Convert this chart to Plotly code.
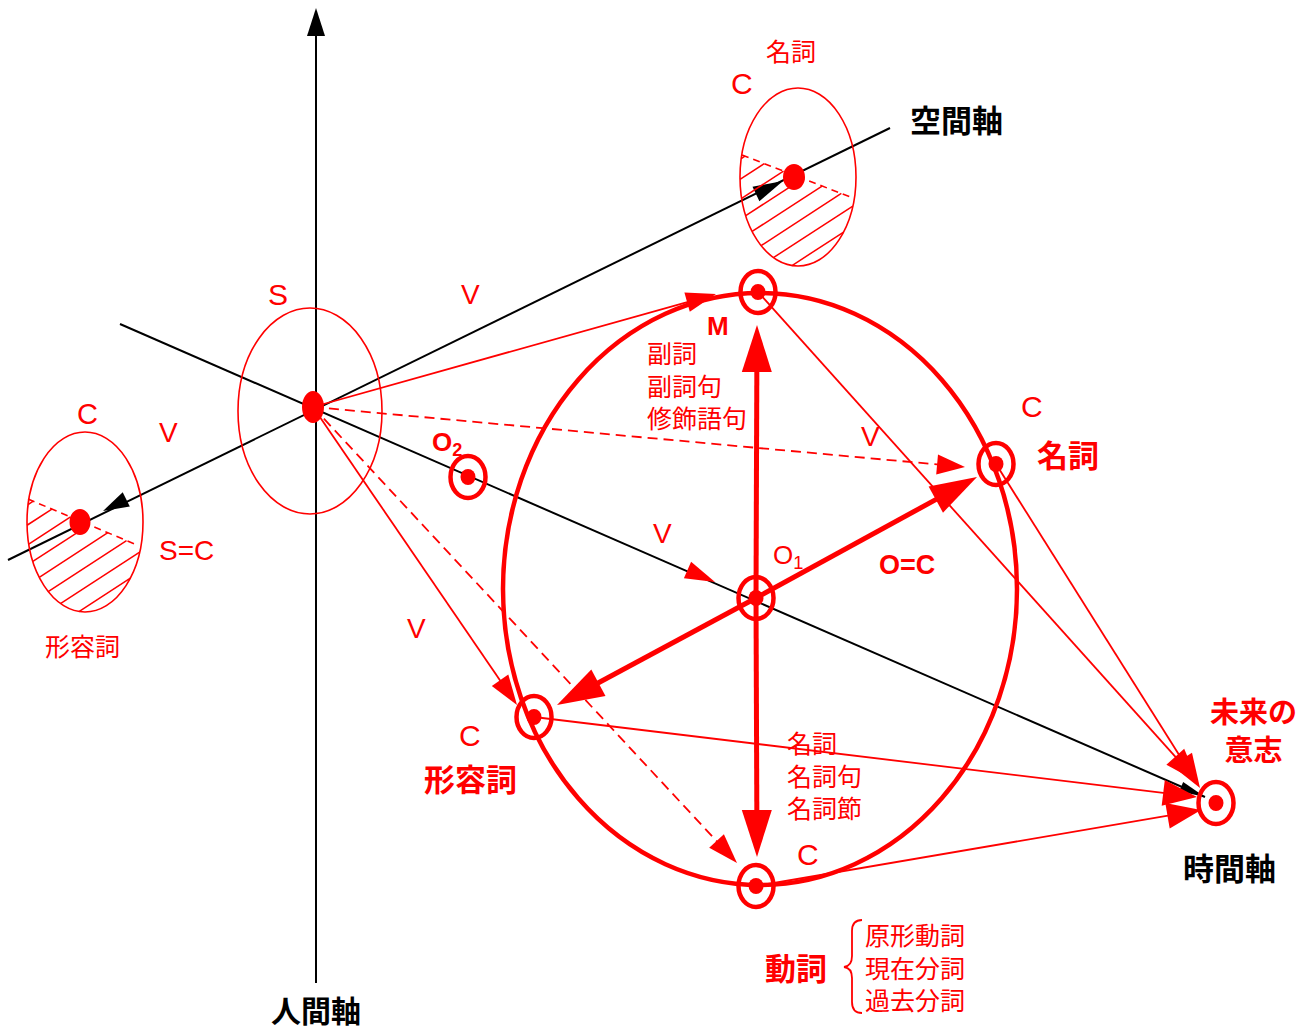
import math
import plotly.graph_objects as go

RED = "#ff0000"
BLK = "#000000"
CJK = "Noto Sans CJK JP"
LAT = "Liberation Sans"

# ---- node positions (diagram coordinates, y grows downward) ----
node_names = ["M", "N", "O1", "O2", "A", "V", "F"]
node_x = [758, 996, 756, 468, 534, 756, 1216]
node_y = [292, 464, 598, 477, 717, 886, 803]

S_pt = (313, 407)
topC_pt = (794, 177)
leftC_pt = (80, 522)

# ---- black axes ----
axis_x0 = [316, 8, 120]
axis_y0 = [983, 560, 324]
axis_x1 = [316, 890, 1205]
axis_y1 = [8, 128, 797]

# black arrowheads: tip, direction source, length, half width
blk_tip = [(316, 8), (783, 181), (103, 511), (1205, 797)]
blk_src = [(316, 100), (313, 407), (313, 407), (313, 407)]
blk_len = [28, 30, 26, 26]
blk_hw = [9, 8, 8, 5]

# ---- ellipses: cx, cy, rx, ry ----
big_ell = (760, 589, 257, 296)
S_ell = (310, 411, 72, 103)
top_ell = (798, 177, 58, 89)
left_ell = (85, 522, 58, 90)

# dashed boundary of hatched area
top_dash = [(742, 155), (853, 198)]
left_dash = [(28, 499), (137, 545)]

# ---- thin red arrows: start, tip, dashed ----
thin_start = [S_pt, S_pt, S_pt, S_pt, (758, 292), (996, 464), (534, 717), (756, 886)]
thin_tip = [(716, 294), (965, 467), (517, 705), (737, 863),
            (1198, 782), (1200, 788), (1197, 797), (1201, 810)]
thin_dash = [False, True, False, True, False, False, False, False]
thin_len = [30, 28, 30, 30, 34, 34, 34, 34]
thin_hw = [10, 10, 10, 10, 12, 12, 13, 13]

# ---- thick red arrows from O1 ----
thick_start = (756, 598)
thick_tip = [(757, 325), (757, 857), (977, 477), (557, 705)]

# ---- texts ----
txt = [
    # text, x, y, size, bold, color, family, anchor
    ("名詞", 791, 50, 25, False, RED, CJK, "center"),
    ("C", 742, 83, 30, False, RED, LAT, "center"),
    ("空間軸", 956, 118, 31, True, BLK, CJK, "center"),
    ("S", 278, 294, 30, False, RED, LAT, "center"),
    ("V", 470, 294, 28, False, RED, LAT, "center"),
    ("M", 718, 326, 26, True, RED, LAT, "center"),
    ("副詞<br>副詞句<br>修飾語句", 645, 384, 25, False, RED, CJK, "left"),
    ("C", 1032, 406, 30, False, RED, LAT, "center"),
    ("名詞", 1068, 453, 31, True, RED, CJK, "center"),
    ("V", 870, 436, 28, False, RED, LAT, "center"),
    ("O<sub>2</sub>", 447, 443, 26, True, RED, LAT, "center"),
    ("O<sub>1</sub>", 788, 556, 26, False, RED, LAT, "center"),
    ("V", 662, 533, 28, False, RED, LAT, "center"),
    ("O=C", 907, 565, 27, True, RED, LAT, "center"),
    ("C", 87, 414, 29, False, RED, LAT, "center"),
    ("V", 168, 432, 28, False, RED, LAT, "center"),
    ("S=C", 186, 550, 28, False, RED, LAT, "center"),
    ("形容詞", 82, 645, 25, False, RED, CJK, "center"),
    ("V", 416, 628, 28, False, RED, LAT, "center"),
    ("C", 470, 735, 30, False, RED, LAT, "center"),
    ("形容詞", 470, 777, 31, True, RED, CJK, "center"),
    ("名詞<br>名詞句<br>名詞節", 785, 774, 25, False, RED, CJK, "left"),
    ("C", 808, 854, 30, False, RED, LAT, "center"),
    ("未来の<br>意志", 1253, 729, 29, True, RED, CJK, "center"),
    ("時間軸", 1229, 866, 31, True, BLK, CJK, "center"),
    ("人間軸", 316, 1009, 30, True, BLK, CJK, "center"),
    ("動詞", 796, 966, 31, True, RED, CJK, "center"),
    ("原形動詞<br>現在分詞<br>過去分詞", 863, 966, 25, False, RED, CJK, "left"),
]

shapes = []


def line(p0, p1, color, width, dash=None):
    d = dict(type="line", xref="x", yref="y", x0=p0[0], y0=p0[1], x1=p1[0], y1=p1[1],
             line=dict(color=color, width=width))
    if dash:
        d["line"]["dash"] = dash
    shapes.append(d)


def head(tip, src, L, hw, color):
    dx, dy = tip[0] - src[0], tip[1] - src[1]
    n = math.hypot(dx, dy)
    ux, uy = dx / n, dy / n
    bx, by = tip[0] - ux * L, tip[1] - uy * L
    px, py = -uy, ux
    path = "M {:.1f},{:.1f} L {:.1f},{:.1f} L {:.1f},{:.1f} Z".format(
        tip[0], tip[1], bx + px * hw, by + py * hw, bx - px * hw, by - py * hw)
    shapes.append(dict(type="path", xref="x", yref="y", path=path,
                       fillcolor=color, line=dict(width=0)))
    return (bx + ux * 2, by + uy * 2)


def ellipse(cx, cy, rx, ry, color, width, fill=None):
    d = dict(type="circle", xref="x", yref="y", x0=cx - rx, x1=cx + rx, y0=cy - ry, y1=cy + ry,
             line=dict(color=color, width=width))
    if fill:
        d["fillcolor"] = fill
        d["line"]["width"] = 0
    shapes.append(d)


def hatch(ell, dash_pts, m=-0.65, step=20):
    cx, cy, rx, ry = ell
    (x1, y1), (x2, y2) = dash_pts
    k = (y2 - y1) / (x2 - x1)
    cmax = cy - m * cx + math.sqrt(ry ** 2 + (m * rx) ** 2)
    c = cmax - step * 0.6
    while c > cy - m * cx - math.sqrt(ry ** 2 + (m * rx) ** 2):
        A = 1 / rx ** 2 + m * m / ry ** 2
        B = -2 * cx / rx ** 2 + 2 * m * (c - cy) / ry ** 2
        C = cx * cx / rx ** 2 + (c - cy) ** 2 / ry ** 2 - 1
        disc = B * B - 4 * A * C
        if disc > 0:
            xa = (-B - math.sqrt(disc)) / (2 * A)
            xb = (-B + math.sqrt(disc)) / (2 * A)
            xlim = (y1 - k * x1 - c) / (m - k)
            xb2 = min(xb, xlim)
            if xb2 > xa + 1:
                line((xa, c + m * xa), (xb2, c + m * xb2), RED, 1.5)
        c -= step


# axes
for i in range(3):
    if i == 0:
        line((axis_x0[i], axis_y0[i]), (axis_x1[i], axis_y1[i] + 20), BLK, 2)
    else:
        line((axis_x0[i], axis_y0[i]), (axis_x1[i], axis_y1[i]), BLK, 2)
for i in range(4):
    head(blk_tip[i], blk_src[i], blk_len[i], blk_hw[i], BLK)

# small ellipses with hatching
for ell, dp in ((top_ell, top_dash), (left_ell, left_dash)):
    ellipse(*ell, RED, 1.6)
    hatch(ell, dp)
    line(dp[0], dp[1], RED, 1.6, "7px,5px")
ellipse(*S_ell, RED, 1.6)

# big ellipse
ellipse(*big_ell, RED, 4.5)

# thin red arrows
for i in range(len(thin_start)):
    b = head(thin_tip[i], thin_start[i], thin_len[i], thin_hw[i], RED)
    line(thin_start[i], b, RED, 1.8, "10px,6px" if thin_dash[i] else None)
# arrowhead on time axis
head((715, 582), S_pt, 30, 9, RED)

# thick arrows
for t in thick_tip:
    b = head(t, thick_start, 47, 15, RED)
    line(thick_start, b, RED, 5)

# dots in small ellipses
ellipse(S_pt[0], S_pt[1], 11, 16, RED, 0, fill=RED)
ellipse(topC_pt[0], topC_pt[1], 11, 13, RED, 0, fill=RED)
ellipse(leftC_pt[0], leftC_pt[1], 10.5, 13, RED, 0, fill=RED)

# target nodes
for x, y in zip(node_x, node_y):
    ellipse(x, y, 17.5, 21, RED, 4.5)
    ellipse(x, y, 7.5, 8, RED, 0, fill=RED)

# brace
bx = 852
shapes.append(dict(type="path", xref="x", yref="y",
                   path=f"M {bx+10},920 Q {bx},920 {bx},931 L {bx},956 Q {bx},966 {bx-8},967 "
                        f"Q {bx},968 {bx},978 L {bx},1002 Q {bx},1013 {bx+10},1013",
                   line=dict(color=RED, width=1.8)))

annotations = []
for t, x, y, s, b, col, fam, anc in txt:
    annotations.append(dict(x=x, y=y, xref="x", yref="y", text=f"<b>{t}</b>" if b else t,
                            showarrow=False, xanchor=anc, yanchor="middle", align=anc,
                            font=dict(size=s, color=col, family=fam)))

fig = go.Figure()
fig.add_trace(go.Scatter(x=[0, 1304], y=[0, 1030], mode="markers",
                         marker=dict(opacity=0), hoverinfo="skip", showlegend=False))
fig.update_layout(
    width=1304, height=1030, margin=dict(l=0, r=0, t=0, b=0),
    paper_bgcolor="white", plot_bgcolor="white",
    xaxis=dict(range=[0, 1304], visible=False, fixedrange=True),
    yaxis=dict(range=[1030, 0], visible=False, fixedrange=True),
    shapes=shapes, annotations=annotations, showlegend=False,
)
fig.write_html("out.html", config={"displayModeBar": False},
               post_script="document.body.style.margin='0';document.body.style.overflow='hidden';")
